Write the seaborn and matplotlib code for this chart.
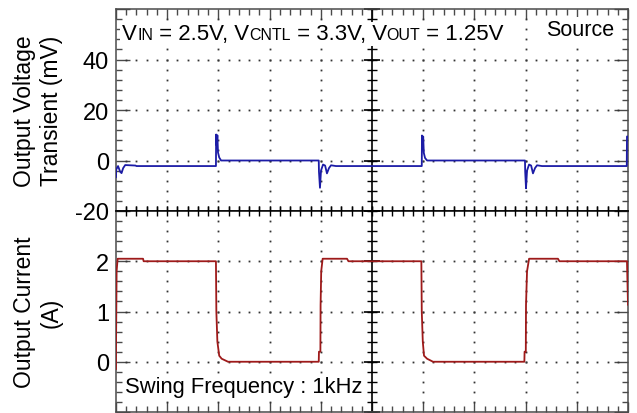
import numpy as np
import pandas as pd
import matplotlib
matplotlib.use("Agg")
import matplotlib.pyplot as plt
import seaborn as sns
from matplotlib.offsetbox import TextArea, HPacker, AnnotationBbox

# ---------------- data ----------------
# time in microseconds (250 us / division), output voltage transient in mV
time_v_us = [0, 1, 10, 20, 27, 35, 45, 95, 100, 488, 489, 492, 495, 498, 504, 513,
             990, 991, 996, 1001, 1011, 1021, 1030, 1040, 1050, 1074,
             1493, 1494, 1497, 1500, 1503, 1509, 1519,
             1997, 1998, 2002, 2007, 2017, 2027, 2036, 2046, 2056, 2080,
             2494, 2495, 2500]
vout_mv = [-6.7, -3.6, -2.2, -4.4, -5.0, -3.0, -1.8, -2.0, -2.2, -2.2, 10.3, 6.0, 10.0, 3.2, 1.2, 0.0,
           0.0, -4.4, -10.8, -4.0, -1.6, -2.0, -5.1, -3.0, -1.9, -2.2,
           -2.2, 9.9, 6.0, 9.5, 3.0, 1.0, 0.0,
           0.0, -4.4, -11.0, -4.0, -1.6, -2.0, -5.1, -3.0, -1.9, -2.2,
           -2.2, 9.5, 9.5]

# output current in A
time_i_us = [0, 0, 3, 8, 132, 135, 488, 490, 495, 504, 516, 547,
             990, 991, 998, 999, 1002, 1009, 1128, 1135,
             1491, 1493, 1498, 1504, 1519, 1548,
             1994, 1995, 2001, 2002, 2007, 2017, 2158, 2165,
             2495, 2500]
iout_a = [-0.15, 0.25, 1.8, 2.05, 2.05, 2.0, 2.0, 1.0, 0.4, 0.12, 0.06, 0.0,
          0.0, 0.2, 0.2, 1.13, 1.8, 2.05, 2.05, 2.0,
          2.0, 1.0, 0.4, 0.12, 0.06, 0.0,
          0.0, 0.2, 0.2, 1.13, 1.8, 2.05, 2.05, 2.0,
          2.0, 1.13]

top_ticks = [-20, 0, 20, 40, 60]
top_labels = ["-20", "0", "20", "40", ""]
bot_ticks = [-1, 0, 1, 2, 3]
bot_labels = ["", "0", "1", "2", ""]

df_v = pd.DataFrame({"t": time_v_us, "v": vout_mv})
df_i = pd.DataFrame({"t": time_i_us, "i": iout_a})

# ---------------- style ----------------
sns.set_theme(style="white")
plt.rcParams['font.family'] = ['Liberation Sans', 'DejaVu Sans']

W, H = 637, 414
fig = plt.figure(figsize=(W / 100, H / 100), dpi=100)
L, R = 116 / W, 628 / W
yt, ym, yb = 1 - 10 / H, 1 - 212 / H, 1 - 413 / H
ax1 = fig.add_axes([L, ym, R - L, yt - ym])
ax2 = fig.add_axes([L, yb, R - L, ym - yb])

XMAX, XDIV = 2500, 250
spine_col = "#4a4a4a"
dot_col = "#333333"


def style_axis(ax, ticks, labels, is_top):
    ylo, yhi = ticks[0], ticks[-1]
    ydiv = ticks[1] - ticks[0]
    ax.set_xlim(0, XMAX)
    ax.set_ylim(ylo, yhi)
    ax.set_xticks(np.arange(0, XMAX + 1, XDIV))
    ax.set_xticks(np.arange(0, XMAX + 1, XDIV / 5), minor=True)
    ax.set_yticks(ticks)
    ax.set_yticks(np.arange(ylo, yhi + ydiv / 10, ydiv / 5), minor=True)
    ax.set_yticklabels(labels)
    ax.set_xticklabels([])
    ax.set_xlabel("")
    ax.tick_params(axis="x", which="both", direction="in", bottom=not is_top, top=is_top,
                   labelbottom=False, color=spine_col, width=1)
    ax.tick_params(axis="x", which="major", length=7)
    ax.tick_params(axis="x", which="minor", length=4)
    ax.tick_params(axis="y", which="both", direction="in", left=True, right=True,
                   color=spine_col, width=1, labelsize=17, pad=5, labelcolor="black")
    ax.tick_params(axis="y", which="major", length=10)
    ax.tick_params(axis="y", which="minor", length=4)
    for s in ax.spines.values():
        s.set_color(spine_col)
        s.set_linewidth(1.1)
        s.set_visible(True)
    ax.spines["bottom" if is_top else "top"].set_color("black")
    ax.grid(False)

    # dotted oscilloscope graticule
    gx = np.arange(XDIV, XMAX, XDIV)
    gx = gx[gx != XMAX / 2]
    yy = np.arange(ylo, yhi + ydiv / 10, ydiv / 5)[1:-1]
    for x0 in gx:
        ax.plot(np.full(len(yy), x0), yy, ls="none", marker="s", ms=1.3, mew=0,
                color=dot_col, zorder=1)
    xx = np.arange(0, XMAX + 1, XDIV / 5)[1:-1]
    for y0 in ticks[1:-1]:
        ax.plot(xx, np.full(len(xx), y0), ls="none", marker="s", ms=1.3, mew=0,
                color=dot_col, zorder=1)

    # central cross with its own ticks
    ax.axvline(XMAX / 2, color="black", lw=1.2, zorder=2)
    ymin_t = np.arange(ylo, yhi + ydiv / 10, ydiv / 5)
    ax.plot(np.full(len(ymin_t), XMAX / 2), ymin_t, ls="none", marker="_", ms=7, mew=1,
            color="black", zorder=2, clip_on=False)
    ax.plot(np.full(len(ticks), XMAX / 2), ticks, ls="none", marker="_", ms=11, mew=1.2,
            color="black", zorder=2, clip_on=False)
    yc = ylo if is_top else yhi
    ax.plot(xx, np.full(len(xx), yc), ls="none", marker="|", ms=7, mew=1,
            color="black", zorder=2, clip_on=False)


style_axis(ax1, top_ticks, top_labels, True)
style_axis(ax2, bot_ticks, bot_labels, False)

sns.lineplot(data=df_v, x="t", y="v", ax=ax1, color="#1c1ca6", lw=1.3,
             sort=False, estimator=None, zorder=3)
sns.lineplot(data=df_i, x="t", y="i", ax=ax2, color="#9e1a1a", lw=1.3,
             sort=False, estimator=None, zorder=3)
for ax in (ax1, ax2):
    ax.set_xlabel("")
    ax.set_xticklabels([])

ax1.set_ylabel("Output Voltage\nTransient (mV)", fontsize=16.5, linespacing=1.2, color="black")
ax2.set_ylabel("Output Current\n(A)", fontsize=16.5, linespacing=1.2, color="black")
ax1.yaxis.set_label_coords(-0.104, 0.5)
ax2.yaxis.set_label_coords(-0.104, 0.5)

# condition text with baseline subscripts
MAIN, SUB = 16, 11.5
parts = [("V", MAIN), ("IN", SUB), (" = 2.5V, V", MAIN), ("CNTL", SUB),
         (" = 3.3V, V", MAIN), ("OUT", SUB), (" = 1.25V", MAIN)]
box = HPacker(children=[TextArea(s, textprops=dict(size=sz, color="black")) for s, sz in parts],
              align="baseline", pad=0, sep=0)
ab = AnnotationBbox(box, (0.012, 0.825), xycoords=ax1.transAxes, box_alignment=(0, 0),
                    frameon=True, pad=0.12,
                    bboxprops=dict(facecolor="white", edgecolor="none"), zorder=5)
ax1.add_artist(ab)

ax1.text(0.973, 0.871, "Source", transform=ax1.transAxes, ha="right", va="baseline",
         fontsize=15.5, zorder=5, color="black",
         bbox=dict(facecolor="white", edgecolor="none", pad=1.5))
ax2.text(0.0176, 0.0995, "Swing Frequency : 1kHz", transform=ax2.transAxes, ha="left",
         va="baseline", fontsize=15.8, zorder=5, color="black",
         bbox=dict(facecolor="white", edgecolor="none", pad=1.5))

fig.savefig("out.png", dpi=100)
